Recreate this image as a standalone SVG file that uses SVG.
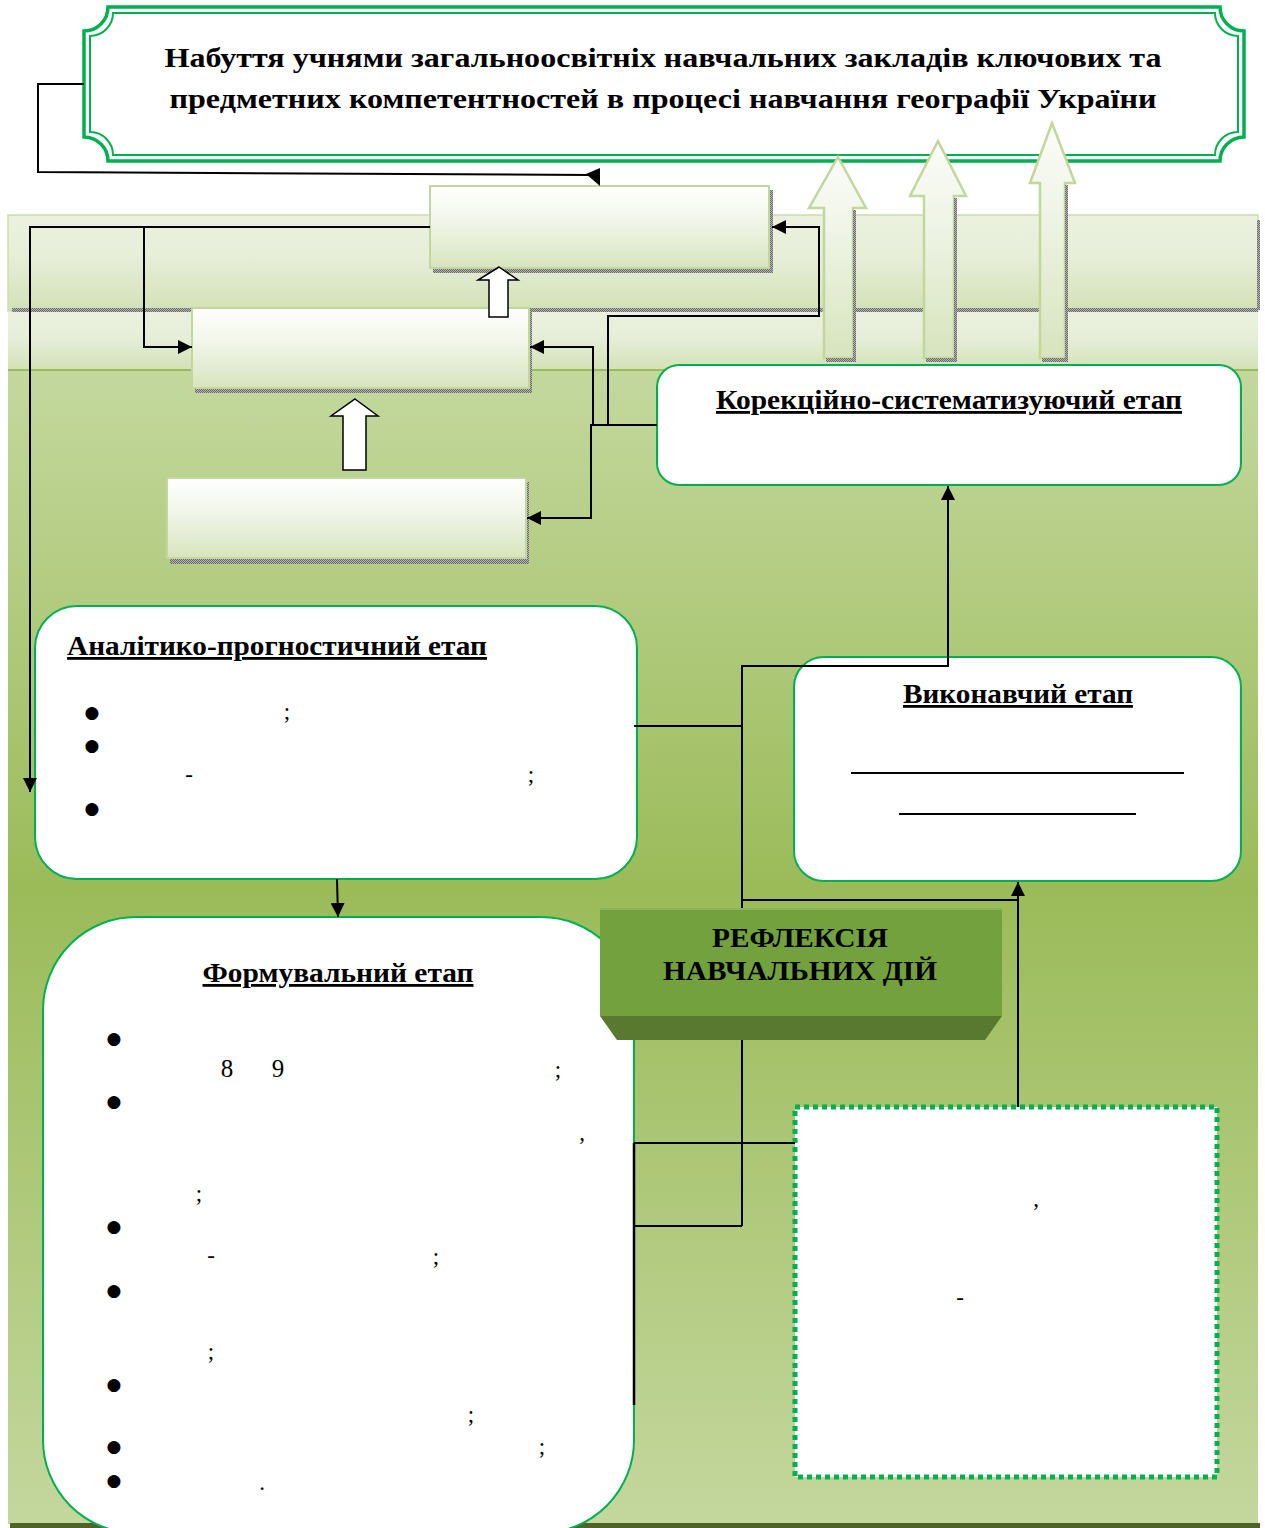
<svg xmlns="http://www.w3.org/2000/svg" width="1265" height="1528" viewBox="0 0 1265 1528">
<defs>
<linearGradient id="bgMain" x1="0" y1="0" x2="0" y2="1">
<stop offset="0" stop-color="#c4d89e"/>
<stop offset="0.45" stop-color="#9bbb59"/>
<stop offset="1" stop-color="#c4d79e"/>
</linearGradient>
<linearGradient id="band" x1="0" y1="0" x2="0" y2="1">
<stop offset="0" stop-color="#ebf1de"/>
<stop offset="0.45" stop-color="#e6eed8"/>
<stop offset="1" stop-color="#d3e1b6"/>
</linearGradient>
<linearGradient id="boxG" x1="0" y1="0" x2="0" y2="1">
<stop offset="0" stop-color="#ffffff"/>
<stop offset="0.45" stop-color="#f0f5e8"/>
<stop offset="1" stop-color="#d7e4bd"/>
</linearGradient>
<linearGradient id="arrG" x1="0" y1="0" x2="0" y2="1">
<stop offset="0" stop-color="#fbfcf9"/>
<stop offset="0.4" stop-color="#eef4e5"/>
<stop offset="1" stop-color="#d7e4bd"/>
</linearGradient>
<pattern id="shd" width="2" height="2" patternUnits="userSpaceOnUse">
<rect width="2" height="2" fill="#b4b4b4"/>
<rect width="1" height="1" fill="#6a6a6a"/>
<rect x="1" y="1" width="1" height="1" fill="#6a6a6a"/>
</pattern>
<marker id="ah" viewBox="0 0 14 14" refX="14" refY="7" markerWidth="14" markerHeight="14" markerUnits="userSpaceOnUse" orient="auto">
<path d="M0,0 L14,7 L0,14 z" fill="#000"/>
</marker>
</defs>
<style>
.hd{font-family:"Liberation Serif","Times New Roman",serif;font-weight:bold;font-size:28px;fill:#000}
.pn{font-family:"Liberation Serif","Times New Roman",serif;font-size:23px;fill:#000}
.dg{font-family:"Liberation Serif","Times New Roman",serif;font-size:25px;fill:#000}
.bl{font-family:"DejaVu Sans",sans-serif;font-size:17px;fill:#000}
.cn{fill:none;stroke:#000;stroke-width:2}
.gbox{fill:url(#boxG);stroke:#c3d69b;stroke-width:2}
.stage{fill:#fff;stroke:#00b050;stroke-width:2}
.bigarr{fill:url(#arrG);stroke:#c3d69b;stroke-width:2.5}
.wa{fill:#fff;stroke:#000;stroke-width:1.5}
.sh{fill:url(#shd)}
</style>

<g id="background">
<rect x="8" y="215" width="1250" height="96" fill="url(#band)" stroke="#cddcb0" stroke-width="1.5"/>
<rect x="12" y="308" width="1246" height="4" class="sh"/>
<rect x="8" y="312" width="1250" height="58" fill="url(#band)"/>
<rect x="8" y="370" width="1250" height="1154" fill="url(#bgMain)"/>
<line x1="8" y1="370" x2="1258" y2="370" stroke="#9bbb59" stroke-width="2"/>
<rect x="1257" y="220" width="3" height="90" class="sh"/>
<rect x="10" y="1523" width="1250" height="5" fill="#4f6228"/>
</g>

<g id="title">
<path d="M108,7 H1220 A24,24 0 0 0 1244,31 V137 A24,24 0 0 0 1220,161 H108 A24,24 0 0 0 84,137 V31 A24,24 0 0 0 108,7 Z" fill="#fff" stroke="#00b050" stroke-width="3.5"/>
<path d="M113,13 H1215 A23,23 0 0 0 1238,36 V132 A23,23 0 0 0 1215,155 H113 A23,23 0 0 0 90,132 V36 A23,23 0 0 0 113,13 Z" fill="none" stroke="#00b050" stroke-width="2"/>
<text class="hd" x="663" y="67" text-anchor="middle" textLength="997" lengthAdjust="spacingAndGlyphs">Набуття учнями загальноосвітніх навчальних закладів ключових та</text>
<text class="hd" x="663" y="108" text-anchor="middle" textLength="987" lengthAdjust="spacingAndGlyphs">предметних компетентностей в процесі навчання географії України</text>
</g>

<g id="big-arrows">
<polygon class="bigarr" points="838,157 866,208 853,208 853,358 824,358 824,208 809,208"/>
<rect x="826" y="358" width="29" height="4" class="sh"/>
<rect x="853" y="210" width="3" height="152" class="sh"/>
<polygon class="bigarr" points="938,141 966,196 954,196 954,358 924,358 924,196 910,196"/>
<rect x="926" y="358" width="30" height="4" class="sh"/>
<rect x="954" y="198" width="3" height="164" class="sh"/>
<polygon class="bigarr" points="1052,123 1075,183 1065,183 1065,358 1040,358 1040,183 1030,183"/>
<rect x="1042" y="358" width="25" height="4" class="sh"/>
<rect x="1065" y="185" width="3" height="177" class="sh"/>
</g>

<g id="box-top">
<rect x="433" y="268" width="340" height="5" class="sh"/>
<rect x="769" y="190" width="4" height="83" class="sh"/>
<rect class="gbox" x="430" y="186" width="339" height="82"/>
</g>

<g id="box-middle">
<rect x="195" y="388" width="337" height="5" class="sh"/>
<rect x="529" y="312" width="3" height="81" class="sh"/>
<rect class="gbox" x="192" y="308" width="337" height="80"/>
</g>

<g id="box-bottom">
<rect x="170" y="558" width="359" height="6" class="sh"/>
<rect x="526" y="482" width="3" height="82" class="sh"/>
<rect class="gbox" x="167" y="478" width="359" height="80"/>
</g>

<g id="hollow-arrows">
<polygon class="wa" points="499,267 518,280 508,280 508,317 489,317 489,280 478,280"/>
<polygon class="wa" points="355,399 378,416 366,416 366,470 343,470 343,416 331,416"/>
</g>

<g id="stage-correction">
<rect class="stage" x="657" y="365" width="584" height="120" rx="22" ry="22"/>
<text class="hd" x="949" y="409" text-anchor="middle" text-decoration="underline" textLength="466" lengthAdjust="spacingAndGlyphs">Корекційно-систематизуючий етап</text>
</g>

<g id="stage-analytic">
<rect class="stage" x="35" y="606" width="602" height="273" rx="42" ry="42"/>
<text class="hd" x="67" y="655" text-decoration="underline" textLength="420" lengthAdjust="spacingAndGlyphs">Аналітико-прогностичний етап</text>
<text class="bl" x="92" y="718" text-anchor="middle">●</text>
<text class="bl" x="92" y="751" text-anchor="middle">●</text>
<text class="bl" x="92" y="814" text-anchor="middle">●</text>
<text class="pn" x="287" y="719" text-anchor="middle">;</text>
<text class="pn" x="189" y="782" text-anchor="middle">-</text>
<text class="pn" x="531" y="782" text-anchor="middle">;</text>
</g>

<g id="stage-executive">
<rect class="stage" x="794" y="657" width="447" height="224" rx="30" ry="30"/>
<text class="hd" x="1018" y="703" text-anchor="middle" text-decoration="underline" textLength="230" lengthAdjust="spacingAndGlyphs">Виконавчий етап</text>
<line x1="851" y1="773" x2="1184" y2="773" stroke="#000" stroke-width="2"/>
<line x1="899" y1="814" x2="1136" y2="814" stroke="#000" stroke-width="2"/>
</g>

<g id="stage-formative">
<rect class="stage" x="43" y="917" width="591" height="616" rx="93" ry="93"/>
<text class="hd" x="338" y="982" text-anchor="middle" text-decoration="underline" textLength="271" lengthAdjust="spacingAndGlyphs">Формувальний етап</text>
<text class="bl" x="114" y="1044" text-anchor="middle">●</text>
<text class="bl" x="114" y="1107" text-anchor="middle">●</text>
<text class="bl" x="114" y="1232" text-anchor="middle">●</text>
<text class="bl" x="114" y="1296" text-anchor="middle">●</text>
<text class="bl" x="114" y="1390" text-anchor="middle">●</text>
<text class="bl" x="114" y="1452" text-anchor="middle">●</text>
<text class="bl" x="114" y="1486" text-anchor="middle">●</text>
<text class="dg" x="227" y="1077" text-anchor="middle">8</text>
<text class="dg" x="278" y="1077" text-anchor="middle">9</text>
<text class="pn" x="558" y="1077" text-anchor="middle">;</text>
<text class="pn" x="582" y="1140" text-anchor="middle">,</text>
<text class="pn" x="199" y="1201" text-anchor="middle">;</text>
<text class="pn" x="211" y="1263" text-anchor="middle">-</text>
<text class="pn" x="436" y="1264" text-anchor="middle">;</text>
<text class="pn" x="211" y="1359" text-anchor="middle">;</text>
<text class="pn" x="471" y="1422" text-anchor="middle">;</text>
<text class="pn" x="542" y="1454" text-anchor="middle">;</text>
<text class="pn" x="262" y="1490" text-anchor="middle">.</text>
</g>

<g id="stage-dashed">
<rect x="795" y="1107" width="422" height="370" fill="#fff" stroke="#00b050" stroke-width="5" stroke-dasharray="5,4"/>
<text class="pn" x="1036" y="1206" text-anchor="middle">,</text>
<text class="pn" x="960" y="1305" text-anchor="middle">-</text>
</g>

<g id="connectors">
<polyline class="cn" points="84,84 38,84 38,172 590,175"/>
<polygon points="586,174 600,168 600,186" fill="#000"/>
<polyline class="cn" points="430,227 30,227 30,792" marker-end="url(#ah)"/>
<polyline class="cn" points="144,227 144,347 192,347" marker-end="url(#ah)"/>
<polyline class="cn" points="608,425 608,316 819,316 819,227 772,227" marker-end="url(#ah)"/>
<polyline class="cn" points="657,425 591,425 591,518 527,518" marker-end="url(#ah)"/>
<polyline class="cn" points="593,425 593,347 530,347" marker-end="url(#ah)"/>
<line class="cn" x1="634" y1="726" x2="742" y2="726"/>
<polyline class="cn" points="742,1226 742,666 948,666 948,486" marker-end="url(#ah)"/>
<polyline class="cn" points="742,900 1018,900"/>
<line class="cn" x1="1018" y1="1107" x2="1018" y2="882" marker-end="url(#ah)"/>
<polyline class="cn" points="634,1226 742,1226"/>
<polyline class="cn" points="634,1143 795,1143"/>
<line x1="634" y1="1143" x2="634" y2="1405" stroke="#000" stroke-width="2.5"/>
<polyline class="cn" points="337,879 338,917" marker-end="url(#ah)"/>
</g>

<g id="reflection">
<rect x="600" y="908" width="402" height="108" fill="#72a13e"/>
<line x1="600" y1="909" x2="1002" y2="909" stroke="#8cb356" stroke-width="2"/>
<polygon points="600,1016 1002,1016 985,1040 617,1040" fill="#58792f"/>
<text class="hd" x="800" y="947" text-anchor="middle" textLength="176" lengthAdjust="spacingAndGlyphs" fill="#0d0d0d">РЕФЛЕКСІЯ</text>
<text class="hd" x="800" y="980" text-anchor="middle" textLength="274" lengthAdjust="spacingAndGlyphs" fill="#0d0d0d">НАВЧАЛЬНИХ ДІЙ</text>
</g>
</svg>
